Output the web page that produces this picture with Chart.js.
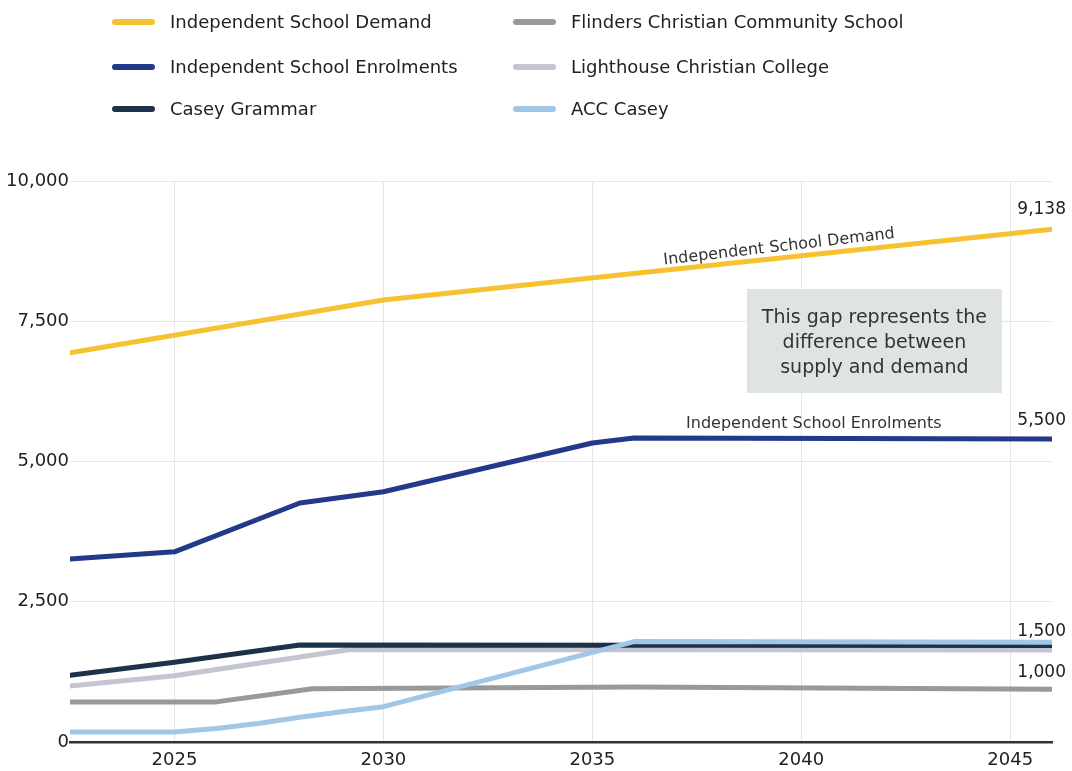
<!DOCTYPE html>
<html>
<head>
<meta charset="utf-8">
<script src="https://cdn.jsdelivr.net/npm/chart.js@4.4.0/dist/chart.umd.min.js"></script>
<style>
  html, body { margin: 0; padding: 0; background: #fff; }
  #wrap { position: relative; width: 1072px; height: 771px; }
</style>
</head>
<body>
<div id="wrap"><canvas id="chart"></canvas></div>
<script>
// series names (legend order: column 1 then column 2)
const seriesNames = [
  'Independent School Demand',
  'Independent School Enrolments',
  'Casey Grammar',
  'Flinders Christian Community School',
  'Lighthouse Christian College',
  'ACC Casey'
];
const seriesColors = ['#f6c231', '#23398a', '#1d3149', '#999999', '#c5c4d1', '#a2c7e6'];

// values (x = year)
const demandYears = [2022.5, 2030, 2046];
const demandValues = [6940, 7880, 9138];

const enrolYears = [2022.5, 2025, 2028, 2030, 2035, 2036, 2046];
const enrolValues = [3260, 3390, 4260, 4460, 5330, 5420, 5400];

const caseyYears = [2022.5, 2025, 2028, 2046];
const caseyValues = [1190, 1420, 1730, 1720];

const flindersYears = [2022.5, 2026, 2028.3, 2036, 2046];
const flindersValues = [715, 715, 950, 980, 940];

const lighthouseYears = [2022.5, 2025, 2029.2, 2046];
const lighthouseValues = [1000, 1180, 1650, 1640];

const accYears = [2022.5, 2025, 2026, 2027, 2028, 2029, 2030, 2036, 2046];
const accValues = [180, 180, 240, 330, 440, 540, 630, 1790, 1780];

const yTicks = [0, 2500, 5000, 7500, 10000];
const xTicks = [2025, 2030, 2035, 2040, 2045];

const endLabels = ['9,138', '5,500', '1,500', '1,000'];
const endLabelSeries = [0, 1, 5, 3];
const endLabelOffsets = [-20, -18, -11, -17];

const noteLines = ['This gap represents the', 'difference between', 'supply and demand'];

const FONT = '"DejaVu Sans", sans-serif';

function pts(xs, ys) {
  return xs.map((x, i) => ({ x: x, y: ys[i] }));
}

const allYears = [demandYears, enrolYears, caseyYears, flindersYears, lighthouseYears, accYears];
const allValues = [demandValues, enrolValues, caseyValues, flindersValues, lighthouseValues, accValues];
const drawOrder = [5, 4, 1, 3, 2, 0];

const datasets = seriesNames.map((name, i) => ({
  label: name,
  data: pts(allYears[i], allValues[i]),
  borderColor: seriesColors[i],
  backgroundColor: seriesColors[i],
  borderWidth: 5,
  pointRadius: 0,
  tension: 0,
  borderCapStyle: 'round',
  borderJoinStyle: 'round',
  order: drawOrder[i]
}));

// legend, notes and end labels
const extrasPlugin = {
  id: 'extras',
  afterDraw(chart) {
    const ctx = chart.ctx;
    const xs = chart.scales.x, ys = chart.scales.y;
    ctx.save();

    // legend in two columns
    const colX = [115, 516];
    const rowY = [22, 67, 109];
    ctx.font = '18px ' + FONT;
    ctx.textBaseline = 'middle';
    ctx.textAlign = 'left';
    seriesNames.forEach((name, i) => {
      const c = Math.floor(i / 3), r = i % 3;
      ctx.strokeStyle = seriesColors[i];
      ctx.lineWidth = 6;
      ctx.lineCap = 'round';
      ctx.beginPath();
      ctx.moveTo(colX[c], rowY[r]);
      ctx.lineTo(colX[c] + 37, rowY[r]);
      ctx.stroke();
      ctx.fillStyle = '#222';
      ctx.fillText(name, colX[c] + 55, rowY[r] + 1);
    });

    // end-of-line value labels
    ctx.font = '17px ' + FONT;
    ctx.textAlign = 'right';
    endLabels.forEach((txt, k) => {
      const s = endLabelSeries[k];
      const vals = allValues[s];
      const yr = allYears[s];
      const px = xs.getPixelForValue(yr[yr.length - 1]) + 14;
      const py = ys.getPixelForValue(vals[vals.length - 1]) + endLabelOffsets[k];
      ctx.fillStyle = '#222';
      ctx.fillText(txt, px, py);
    });

    // rotated demand label along the line
    const x1 = xs.getPixelForValue(demandYears[1]), y1 = ys.getPixelForValue(demandValues[1]);
    const x2 = xs.getPixelForValue(demandYears[2]), y2 = ys.getPixelForValue(demandValues[2]);
    const ang = Math.atan2(y2 - y1, x2 - x1);
    const mx = xs.getPixelForValue(2039.5);
    const my = y1 + (mx - x1) * (y2 - y1) / (x2 - x1);
    ctx.save();
    ctx.translate(mx, my);
    ctx.rotate(ang - 0.01);
    ctx.font = '16px ' + FONT;
    ctx.textAlign = 'center';
    ctx.textBaseline = 'bottom';
    ctx.fillStyle = '#333';
    ctx.fillText(seriesNames[0], 0, -3);
    ctx.restore();

    // enrolments label
    ctx.font = '16px ' + FONT;
    ctx.textAlign = 'center';
    ctx.textBaseline = 'bottom';
    ctx.fillStyle = '#333';
    ctx.fillText(seriesNames[1], xs.getPixelForValue(2040.3), ys.getPixelForValue(enrolValues[enrolValues.length - 1]) - 7);

    // gap note box
    const bx1 = xs.getPixelForValue(2038.7), bx2 = xs.getPixelForValue(2044.8);
    const by1 = ys.getPixelForValue(8075), by2 = ys.getPixelForValue(6220);
    ctx.fillStyle = '#dfe4e3';
    ctx.fillRect(bx1, by1, bx2 - bx1, by2 - by1);
    ctx.fillStyle = '#333';
    ctx.font = '19px ' + FONT;
    ctx.textBaseline = 'middle';
    const cx = (bx1 + bx2) / 2, cy = (by1 + by2) / 2 + 2;
    noteLines.forEach((l, i) => {
      ctx.fillText(l, cx, cy + (i - 1) * 25);
    });

    ctx.restore();
  }
};

new Chart(document.getElementById('chart'), {
  type: 'line',
  data: { datasets: datasets },
  plugins: [extrasPlugin],
  options: {
    responsive: true,
    maintainAspectRatio: false,
    animation: false,
    layout: { padding: { top: 181, right: 20, left: 0, bottom: 0 } },
    plugins: {
      legend: { display: false },
      tooltip: { enabled: false }
    },
    scales: {
      x: {
        type: 'linear',
        min: 2022.5,
        max: 2046,
        afterFit(scale) { scale.height = 29; },
        afterBuildTicks(scale) { scale.ticks = xTicks.map(v => ({ value: v })); },
        ticks: {
          callback: v => String(v),
          font: { family: FONT, size: 18 },
          color: '#222',
          padding: 8
        },
        grid: { color: '#e6e6e6', lineWidth: 1, drawTicks: false },
        border: { display: true, color: '#333', width: 2.5 }
      },
      y: {
        min: 0,
        max: 10000,
        afterFit(scale) { scale.width = 70; },
        afterBuildTicks(scale) { scale.ticks = yTicks.map(v => ({ value: v })); },
        ticks: {
          callback: v => v.toLocaleString('en-US'),
          font: { family: FONT, size: 18 },
          color: '#222',
          padding: 1
        },
        grid: { color: '#e6e6e6', lineWidth: 1, drawTicks: false },
        border: { display: false }
      }
    }
  }
});
</script>
</body>
</html>
